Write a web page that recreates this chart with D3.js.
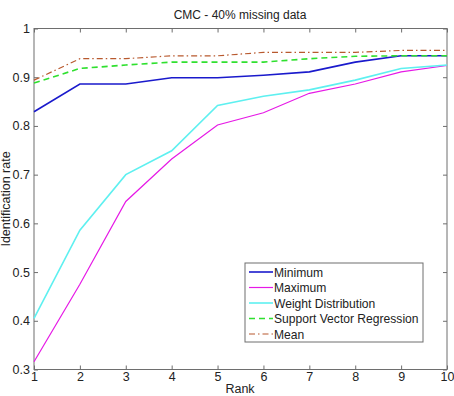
<!DOCTYPE html>
<html lang="en">
  <head>
    <meta charset="UTF-8" />
    <title>CMC - 40% missing data</title>
    <script src="https://d3js.org/d3.v7.min.js"></script>
    <style>
      body {
        margin: 0;
        background: #fff;
      }
      text {
        font-family: "Liberation Sans", Arial, sans-serif;
        fill: #222;
      }
    </style>
  </head>
  <body>
    <svg width="454" height="396"></svg>
    <script>
      // data
      var ranks = [1, 2, 3, 4, 5, 6, 7, 8, 9, 10];
      var minimum = [0.829, 0.886, 0.886, 0.899, 0.899, 0.904, 0.911, 0.931, 0.944, 0.944];
      var maximum = [0.316, 0.475, 0.645, 0.732, 0.802, 0.827, 0.867, 0.886, 0.911, 0.924];
      var weightDist = [0.405, 0.586, 0.7, 0.749, 0.842, 0.861, 0.874, 0.894, 0.918, 0.925];
      var svr = [0.888, 0.918, 0.925, 0.931, 0.931, 0.931, 0.938, 0.943, 0.944, 0.944];
      var mean = [0.894, 0.938, 0.938, 0.944, 0.944, 0.951, 0.951, 0.951, 0.955, 0.955];
      var yTicks = [0.3, 0.4, 0.5, 0.6, 0.7, 0.8, 0.9, 1];

      var series = [
        { name: "Minimum", values: minimum, color: "#1a1acc", dash: null, width: 1.6 },
        { name: "Maximum", values: maximum, color: "#e619e6", dash: null, width: 1.2 },
        { name: "Weight Distribution", values: weightDist, color: "#5ef0f0", dash: null, width: 1.6 },
        { name: "Support Vector Regression", values: svr, color: "#2fe02f", dash: "6,4", width: 1.6 },
        { name: "Mean", values: mean, color: "#b8592e", dash: "6,3,1.5,3", width: 1.2 }
      ];

      var svg = d3.select("svg");
      var plotLeft = 34,
        plotRight = 447,
        plotTop = 28.5,
        plotBottom = 369.5;

      var x = d3.scaleLinear().domain([1, 10]).range([plotLeft, plotRight]);
      var y = d3.scaleLinear().domain([0.3, 1]).range([plotBottom, plotTop]);

      var axisColor = "#6e6e6e";

      // box
      svg
        .append("rect")
        .attr("x", plotLeft)
        .attr("y", plotTop)
        .attr("width", plotRight - plotLeft)
        .attr("height", plotBottom - plotTop)
        .attr("fill", "#fff")
        .attr("stroke", axisColor)
        .attr("stroke-width", 1);

      // ticks point inward on all four sides
      var xAxis = svg
        .append("g")
        .attr("transform", "translate(0," + plotBottom + ")")
        .call(d3.axisBottom(x).tickValues(ranks).tickSize(-4).tickPadding(3).tickFormat(d3.format("d")));
      var xAxisTop = svg
        .append("g")
        .attr("transform", "translate(0," + plotTop + ")")
        .call(d3.axisTop(x).tickValues(ranks).tickSize(-4).tickFormat(""));

      var yAxis = svg
        .append("g")
        .attr("transform", "translate(" + plotLeft + ",0)")
        .call(d3.axisLeft(y).tickValues(yTicks).tickSize(-4).tickPadding(4).tickFormat(d3.format("")));
      var yAxisRight = svg
        .append("g")
        .attr("transform", "translate(" + plotRight + ",0)")
        .call(d3.axisRight(y).tickValues(yTicks).tickSize(-4).tickFormat(""));

      [xAxis, xAxisTop, yAxis, yAxisRight].forEach(function (g) {
        g.select(".domain").remove();
        g.selectAll("line").attr("stroke", axisColor);
        g.selectAll("text")
          .style("font-family", '"Liberation Sans", Arial, sans-serif')
          .style("font-size", "12.5px")
          .attr("fill", "#222");
      });

      // lines
      var line = d3
        .line()
        .x(function (d, i) {
          return x(ranks[i]);
        })
        .y(function (d) {
          return y(d);
        });

      svg
        .append("g")
        .selectAll("path")
        .data(series)
        .enter()
        .append("path")
        .attr("d", function (d) {
          return line(d.values);
        })
        .attr("fill", "none")
        .attr("stroke", function (d) {
          return d.color;
        })
        .attr("stroke-width", function (d) {
          return d.width;
        })
        .attr("stroke-dasharray", function (d) {
          return d.dash;
        });

      // titles
      svg
        .append("text")
        .attr("x", 240)
        .attr("y", 19)
        .attr("text-anchor", "middle")
        .style("font-size", "12px")
        .text("CMC - 40% missing data");

      svg
        .append("text")
        .attr("x", 240)
        .attr("y", 393)
        .attr("text-anchor", "middle")
        .style("font-size", "12.5px")
        .text("Rank");

      svg
        .append("text")
        .attr("transform", "translate(10," + (plotTop + plotBottom) / 2 + ") rotate(-90)")
        .attr("text-anchor", "middle")
        .style("font-size", "12.5px")
        .text("Identification rate");

      // legend
      var legend = svg.append("g").attr("transform", "translate(245,263)");
      legend
        .append("rect")
        .attr("width", 178)
        .attr("height", 79)
        .attr("fill", "#fff")
        .attr("stroke", axisColor);

      var item = legend
        .selectAll(".item")
        .data(series)
        .enter()
        .append("g")
        .attr("class", "item")
        .attr("transform", function (d, i) {
          return "translate(0," + (9 + i * 15.5) + ")";
        });

      item
        .append("line")
        .attr("x1", 4)
        .attr("x2", 28)
        .attr("stroke", function (d) {
          return d.color;
        })
        .attr("stroke-width", function (d) {
          return d.width;
        })
        .attr("stroke-dasharray", function (d) {
          return d.dash;
        });

      item
        .append("text")
        .attr("x", 29)
        .attr("y", 4.5)
        .style("font-size", "12.1px")
        .text(function (d) {
          return d.name;
        });
    </script>
  </body>
</html>
